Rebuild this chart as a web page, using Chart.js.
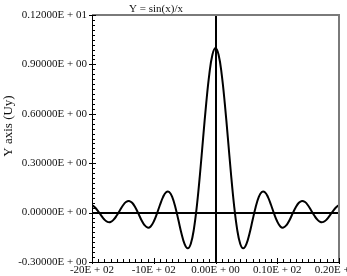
<!DOCTYPE html>
<html>
<head>
<meta charset="utf-8">
<script src="https://cdn.jsdelivr.net/npm/chart.js@4/dist/chart.umd.min.js"></script>
<style>
  body { margin: 0; background: #fff; }
  canvas { display: block; }
</style>
</head>
<body>
<canvas id="chart" width="347" height="276"></canvas>
<script>
// x positions (step 0.5) and curve values
const xValues = [
  -20, -19.5, -19, -18.5, -18, -17.5, -17, -16.5, -16, -15.5, -15, -14.5, -14, -13.5,
  -13, -12.5, -12, -11.5, -11, -10.5, -10, -9.5, -9, -8.5, -8, -7.5, -7, -6.5, -6,
  -5.5, -5, -4.5, -4, -3.5, -3, -2.5, -2, -1.5, -1, -0.5, 0,
  0.5, 1, 1.5, 2, 2.5, 3, 3.5, 4, 4.5, 5, 5.5, 6, 6.5, 7, 7.5, 8, 8.5, 9, 9.5,
  10, 10.5, 11, 11.5, 12, 12.5, 13, 13.5, 14, 14.5, 15, 15.5, 16, 16.5, 17, 17.5,
  18, 18.5, 19, 19.5, 20
];
const yValues = [
  0.046, 0.031, 0.008, -0.018, -0.042, -0.056, -0.057, -0.043, -0.018, 0.013, 0.043,
  0.064, 0.071, 0.060, 0.032, -0.005, -0.045, -0.076, -0.091, -0.084, -0.054, -0.008,
  0.046, 0.094, 0.124, 0.125, 0.094, 0.033, -0.047, -0.128, -0.192, -0.217, -0.189,
  -0.100, 0.047, 0.239, 0.455, 0.665, 0.841, 0.959, 1.0,
  0.959, 0.841, 0.665, 0.455, 0.239, 0.047, -0.100, -0.189, -0.217, -0.192, -0.128,
  -0.047, 0.033, 0.094, 0.125, 0.124, 0.094, 0.046, -0.008, -0.054, -0.084, -0.091,
  -0.076, -0.045, -0.005, 0.032, 0.060, 0.071, 0.064, 0.043, 0.013, -0.018, -0.043,
  -0.057, -0.056, -0.042, -0.018, 0.008, 0.031, 0.046
];
const xTickLabels = ["-20E + 02", "-10E + 02", "0.00E + 00", "0.10E + 02", "0.20E + 02"];
const yTickLabels = ["-0.30000E + 00", "0.00000E + 00", "0.30000E + 00", "0.60000E + 00", "0.90000E + 00", "0.12000E + 01"];
const chartTitle = "Y = sin(x)/x";
const yAxisTitle = "Y axis (Uy)";

const serif = "'Liberation Serif', 'DejaVu Serif', serif";

const points = xValues.map((x, i) => ({ x: x, y: yValues[i] }));

// frame, minor/major tick marks and the free text
const decorations = {
  id: "decorations",
  afterDraw(chart) {
    const ctx = chart.ctx;
    const area = chart.chartArea;
    const xs = chart.scales.x;
    const ys = chart.scales.y;
    ctx.save();

    // top and right frame
    ctx.strokeStyle = "#7a7a7a";
    ctx.lineWidth = 2;
    ctx.beginPath();
    ctx.moveTo(area.left, area.top);
    ctx.lineTo(area.right, area.top);
    ctx.lineTo(area.right, area.bottom);
    ctx.stroke();

    // tick marks
    ctx.strokeStyle = "#000";
    ctx.lineWidth = 1;
    ctx.beginPath();
    for (let i = 0; i <= 50; i++) {
      const py = Math.round(ys.getPixelForValue(ys.min + i * 0.03)) + 0.5;
      if (i % 10 === 0) {
        ctx.moveTo(area.left - 3, py);
        ctx.lineTo(area.left + 4, py);
      } else {
        ctx.moveTo(area.left, py);
        ctx.lineTo(area.left + 3, py);
      }
    }
    for (let i = 0; i <= 40; i++) {
      const px = Math.round(xs.getPixelForValue(xs.min + i)) + 0.5;
      if (i % 10 === 0) {
        ctx.moveTo(px, area.bottom + 2);
        ctx.lineTo(px, area.bottom - 4);
      } else {
        ctx.moveTo(px, area.bottom);
        ctx.lineTo(px, area.bottom - 3);
      }
    }
    ctx.stroke();

    // title
    ctx.fillStyle = "#111";
    ctx.font = "11px " + serif;
    ctx.textAlign = "center";
    ctx.textBaseline = "alphabetic";
    ctx.fillText(chartTitle, 156, 12);

    // y axis title
    ctx.translate(9, 126);
    ctx.rotate(-Math.PI / 2);
    ctx.font = "13px " + serif;
    ctx.textBaseline = "middle";
    ctx.fillText(yAxisTitle, 0, 0);
    ctx.restore();
  }
};

const isZero = (c) => c.tick && Math.abs(c.tick.value) < 1e-9;

new Chart(document.getElementById("chart"), {
  type: "line",
  data: {
    datasets: [{
      data: points,
      borderColor: "#000",
      borderWidth: 2,
      pointRadius: 0,
      tension: 0.4,
      fill: false
    }]
  },
  options: {
    responsive: false,
    animation: false,
    layout: { padding: { top: 15, right: 8, left: 0, bottom: 0 } },
    plugins: {
      legend: { display: false },
      tooltip: { enabled: false }
    },
    scales: {
      x: {
        type: "linear",
        min: -20,
        max: 20,
        afterFit: (scale) => {
          scale.height = 14;
          // let the last label run off the canvas like the original
          scale.paddingLeft = 0;
          scale.paddingRight = 0;
        },
        ticks: {
          stepSize: 10,
          padding: 2,
          color: "#111",
          font: { family: serif, size: 11 },
          maxRotation: 0,
          callback: (v, i) => xTickLabels[i]
        },
        grid: {
          drawTicks: false,
          color: (c) => isZero(c) ? "#000" : "rgba(0,0,0,0)",
          lineWidth: 2
        },
        border: { color: "#000", width: 1 }
      },
      y: {
        min: -0.3,
        max: 1.2,
        afterFit: (scale) => { scale.width = 92; },
        ticks: {
          stepSize: 0.3,
          padding: 5,
          color: "#111",
          font: { family: serif, size: 11 },
          callback: (v, i) => yTickLabels[i]
        },
        grid: {
          drawTicks: false,
          color: (c) => isZero(c) ? "#000" : "rgba(0,0,0,0)",
          lineWidth: 2
        },
        border: { color: "#000", width: 1 }
      }
    }
  },
  plugins: [decorations]
});
</script>
</body>
</html>
